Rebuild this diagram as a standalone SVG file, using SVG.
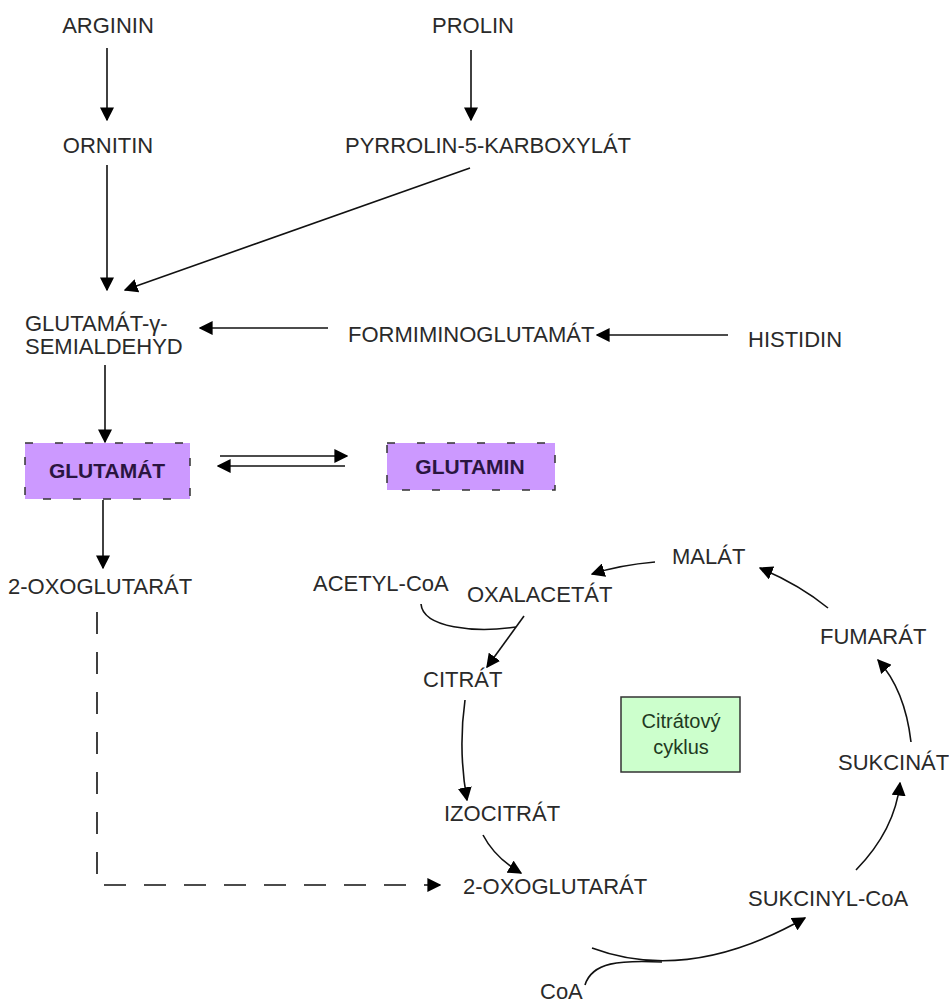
<svg xmlns="http://www.w3.org/2000/svg" width="949" height="1002" viewBox="0 0 949 1002">
<style>
text{font-family:"Liberation Sans",Arial,sans-serif;font-size:22px;fill:#2a2a2a}
.b{font-weight:bold;font-size:21px;fill:#2a1540}
.s{font-size:20px;fill:#1f3a1f}
.c{stroke:#111;stroke-width:1.6;fill:none;marker-end:url(#ah)}
.l{stroke:#111;stroke-width:1.6;fill:none}
.d{stroke:#111;stroke-width:1.6;fill:none;stroke-dasharray:22 18;marker-end:url(#ah)}
.pb{fill:#cc99ff;stroke:#333;stroke-width:1.5;stroke-dasharray:8 22}
</style>
<defs>
<marker id="ah" viewBox="0 0 10 10" refX="9" refY="5" markerWidth="14" markerHeight="14" markerUnits="userSpaceOnUse" orient="auto"><path d="M0,0 L10,5 L0,10 z" fill="#000"/></marker>
</defs>
<rect width="949" height="1002" fill="#fff"/>
<g id="connectors">
<line class="c" x1="107" y1="48" x2="107" y2="120"/>
<line class="c" x1="471" y1="50" x2="471" y2="120"/>
<line class="c" x1="107" y1="165" x2="107" y2="290"/>
<line class="c" x1="470" y1="168" x2="125" y2="290"/>
<line class="c" x1="328" y1="328" x2="200" y2="328"/>
<line class="c" x1="728" y1="335" x2="597" y2="335"/>
<line class="c" x1="105" y1="365" x2="105" y2="442"/>
<line class="c" x1="220" y1="456" x2="347" y2="456"/>
<line class="c" x1="345" y1="466" x2="218" y2="466"/>
<line class="c" x1="103" y1="500" x2="103" y2="568"/>
<path class="d" d="M97,612 V885 H440"/>
<path class="c" d="M655,562 Q620,565 592,574"/>
<path class="c" d="M828,608 Q800,585 760,568"/>
<path class="c" d="M911,742 Q905,690 878,660"/>
<path class="c" d="M856,870 Q895,830 900,783"/>
<path class="c" d="M483,835 Q495,858 521,873"/>
<path class="c" d="M465,700 Q458,750 467,800"/>
<path class="l" d="M421,604 C423,628 475,633 516,627"/>
<line class="c" x1="524" y1="616" x2="487" y2="667"/>
<path class="c" d="M592,948 C640,966 710,972 805,918"/>
<path class="l" d="M585,985 C592,962 620,960 662,962"/>
</g>
<g id="n-arginin"><text x="108" y="33" text-anchor="middle">ARGININ</text></g>
<g id="n-prolin"><text x="473" y="33" text-anchor="middle">PROLIN</text></g>
<g id="n-ornitin"><text x="108" y="153" text-anchor="middle">ORNITIN</text></g>
<g id="n-pyrrolin"><text x="488" y="153" text-anchor="middle">PYRROLIN-5-KARBOXYLÁT</text></g>
<g id="n-semialdehyd"><text x="25" y="331">GLUTAMÁT-γ-</text><text x="25" y="354">SEMIALDEHYD</text></g>
<g id="n-formimino"><text x="348" y="342">FORMIMINOGLUTAMÁT</text></g>
<g id="n-histidin"><text x="748" y="347">HISTIDIN</text></g>
<g id="n-glutamat"><rect class="pb" x="25" y="443" width="165" height="56"/><text class="b" x="107" y="478" text-anchor="middle">GLUTAMÁT</text></g>
<g id="n-glutamin"><rect class="pb" x="387" y="443" width="168" height="47"/><text class="b" x="470" y="474" text-anchor="middle">GLUTAMIN</text></g>
<g id="n-oxoglutarat1"><text x="8" y="594">2-OXOGLUTARÁT</text></g>
<g id="n-acetylcoa"><text x="313" y="591">ACETYL-CoA</text></g>
<g id="n-oxalacetat"><text x="467" y="602">OXALACETÁT</text></g>
<g id="n-malat"><text x="672" y="564">MALÁT</text></g>
<g id="n-fumarat"><text x="820" y="644">FUMARÁT</text></g>
<g id="n-citrat"><text x="423" y="687">CITRÁT</text></g>
<g id="n-cyklus"><rect x="621" y="697" width="119" height="75" fill="#ccffcc" stroke="#333" stroke-width="1.5"/><text class="s" x="681" y="728" text-anchor="middle">Citrátový</text><text class="s" x="681" y="754" text-anchor="middle">cyklus</text></g>
<g id="n-izocitrat"><text x="444" y="821">IZOCITRÁT</text></g>
<g id="n-sukcinat"><text x="838" y="770">SUKCINÁT</text></g>
<g id="n-oxoglutarat2"><text x="463" y="894">2-OXOGLUTARÁT</text></g>
<g id="n-sukcinylcoa"><text x="748" y="906">SUKCINYL-CoA</text></g>
<g id="n-coa"><text x="540" y="999">CoA</text></g>
</svg>
